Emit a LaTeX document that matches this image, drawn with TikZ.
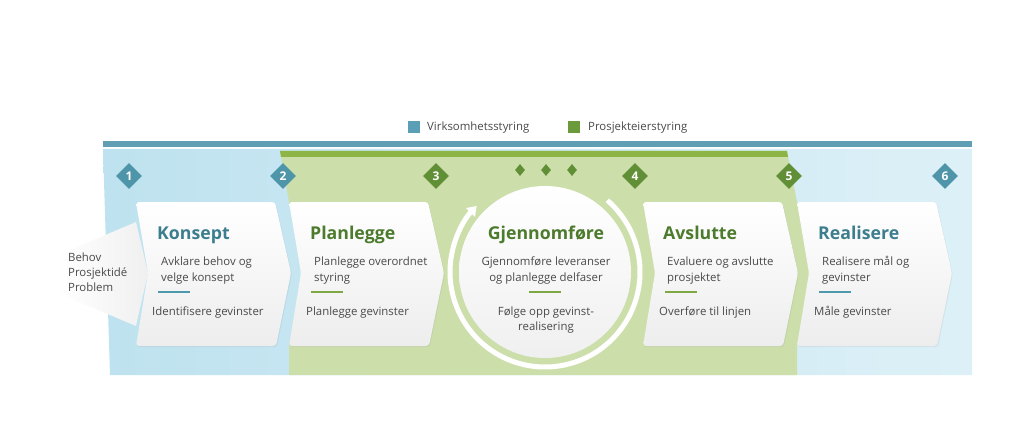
\documentclass[tikz,border=0pt]{standalone}
\usepackage{fontspec}
\setmainfont{Open Sans}
\usetikzlibrary{shapes.geometric,arrows.meta,shadows}
\definecolor{barblue}{HTML}{609FB3}
\definecolor{bargreen}{HTML}{8CB545}
\definecolor{regblueL}{HTML}{BEE2EF}
\definecolor{regblueR}{HTML}{DDF0F7}
\definecolor{reggreen}{HTML}{CCDFAB}
\definecolor{dblue}{HTML}{4F95A9}
\definecolor{dgreen}{HTML}{618F36}
\definecolor{legblue}{HTML}{5A9FB6}
\definecolor{leggreen}{HTML}{6A9A3A}
\definecolor{ttlblue}{HTML}{3D7E8E}
\definecolor{ttlgreen}{HTML}{4D7B2D}
\definecolor{txt}{HTML}{4A4A4A}
\definecolor{lnblue}{HTML}{4E9AAC}
\definecolor{lngreen}{HTML}{7EA844}
\tikzset{
  numd/.style={diamond, aspect=1, minimum width=26pt, minimum height=26pt, inner sep=0pt, text=white, font=\bfseries\fontsize{12}{12}\selectfont},
  smalld/.style={diamond, aspect=1, minimum width=10pt, minimum height=12pt, inner sep=0pt, fill=dgreen},
  legsq/.style={minimum size=12pt, inner sep=0pt},
  legtxt/.style={font=\fontsize{11.4}{13}\selectfont, text=txt, inner sep=0pt, anchor=base west},
  ttl/.style={font=\bfseries\fontsize{17.7}{20}\selectfont, inner sep=0pt, anchor=base west},
  body/.style={font=\fontsize{11.4}{13}\selectfont, text=txt, inner sep=0pt, anchor=base west},
  bodyc/.style={body, anchor=base},
  phase/.style={top color=white, bottom color=black!7, rounded corners=3pt,
    drop shadow={opacity=0.12, shadow xshift=0.8pt, shadow yshift=-1.2pt}},
  uline/.style={line width=2.5pt}
}
\newcommand\phasebox[1]{\path[phase] (#1,202) -- ++(139,0) -- ++(16,71) -- ++(-15,73) -- ++(-140,0) -- ++(12,-73) -- cycle;}
\begin{document}
\begin{tikzpicture}[x=1pt,y=-1pt]
\useasboundingbox (0,0) rectangle (1023,433);
\fill[white] (0,0) rectangle (1023,433);

% legend
\node[legsq, fill=legblue] (lq1) at (414,127) {};
\node[legtxt] (lt1) at (427,131) {Virksomhetsstyring};
\node[legsq, fill=leggreen] (lq2) at (574,127) {};
\node[legtxt] (lt2) at (588,131) {Prosjekteierstyring};

% bars and regions
\fill[barblue] (103,141) rectangle (972,147);
\shade[left color=regblueL, right color=regblueR] (103,149) -- (972,149) -- (972,375) -- (110,375) -- cycle;
\fill[reggreen] (280,151) -- (787,151) -- (797,202) -- (810,273) -- (797,346) -- (797,375)
  -- (289,375) -- (289,346) -- (302,273) -- (289,202) -- cycle;
\fill[bargreen] (280,151) -- (787,151) -- (788,157) -- (281,157) -- cycle;

% input arrow shadow
\shade[left color=white, right color=black!6] (58,255) -- (136,222) -- (148,273) -- (136,326) -- (58,293) -- cycle;
\node[body] (in1) at (68,261) {Behov};
\node[body] (in2) at (68,276) {Prosjektidé};
\node[body] (in3) at (68,291) {Problem};

% number diamonds
\node[numd, fill=dblue] (d1) at (129,176) {1};
\node[numd, fill=dblue] (d2) at (283,176) {2};
\node[numd, fill=dgreen] (d3) at (436,176) {3};
\node[numd, fill=dgreen] (d4) at (635,176) {4};
\node[numd, fill=dgreen] (d5) at (789,176) {5};
\node[numd, fill=dblue] (d6) at (945,176) {6};
\node[smalld] (s1) at (520,170) {};
\node[smalld] (s2) at (546,170) {};
\node[smalld] (s3) at (572,170) {};

% phase boxes
\phasebox{136}
\phasebox{289}
\phasebox{643}
\phasebox{797}

% circle
\node[circle, minimum size=172pt, inner sep=0pt, top color=white, bottom color=black!6] (circ) at (545,272) {};
\draw[white, line width=5pt, -{Triangle[length=9pt,width=12pt]}] (circ.center) ++(-49:95) arc[start angle=-49, end angle=224, radius=95];

% Konsept
\node[ttl, text=ttlblue] (t1) at (157,239) {Konsept};
\node[body] (b1a) at (161,265) {Avklare behov og};
\node[body] (b1b) at (161,281) {velge konsept};
\draw[uline, lnblue] (158,292) -- (190,292);
\node[body] (c1) at (152,315) {Identifisere gevinster};

% Planlegge
\node[ttl, text=ttlgreen] (t2) at (310,239) {Planlegge};
\node[body] (b2a) at (314,265) {Planlegge overordnet};
\node[body] (b2b) at (314,281) {styring};
\draw[uline, lngreen] (311,292) -- (343,292);
\node[body] (c2) at (306,315) {Planlegge gevinster};

% Gjennomføre
\node[ttl, anchor=base, text=ttlgreen] (t3) at (546,239) {Gjennomføre};
\node[bodyc] (b3a) at (546,265) {Gjennomføre leveranser};
\node[bodyc] (b3b) at (546,281) {og planlegge delfaser};
\draw[uline, lngreen] (529,292) -- (561,292);
\node[bodyc] (c3a) at (546,315) {Følge opp gevinst-};
\node[bodyc] (c3b) at (546,330) {realisering};

% Avslutte
\node[ttl, text=ttlgreen] (t4) at (663,239) {Avslutte};
\node[body] (b4a) at (667,265) {Evaluere og avslutte};
\node[body] (b4b) at (667,281) {prosjektet};
\draw[uline, lngreen] (665,292) -- (697,292);
\node[body] (c4) at (659,315) {Overføre til linjen};

% Realisere
\node[ttl, text=ttlblue] (t5) at (818,239) {Realisere};
\node[body] (b5a) at (822,265) {Realisere mål og};
\node[body] (b5b) at (822,281) {gevinster};
\draw[uline, lnblue] (819,292) -- (851,292);
\node[body] (c5) at (814,315) {Måle gevinster};
\end{tikzpicture}
\end{document}
